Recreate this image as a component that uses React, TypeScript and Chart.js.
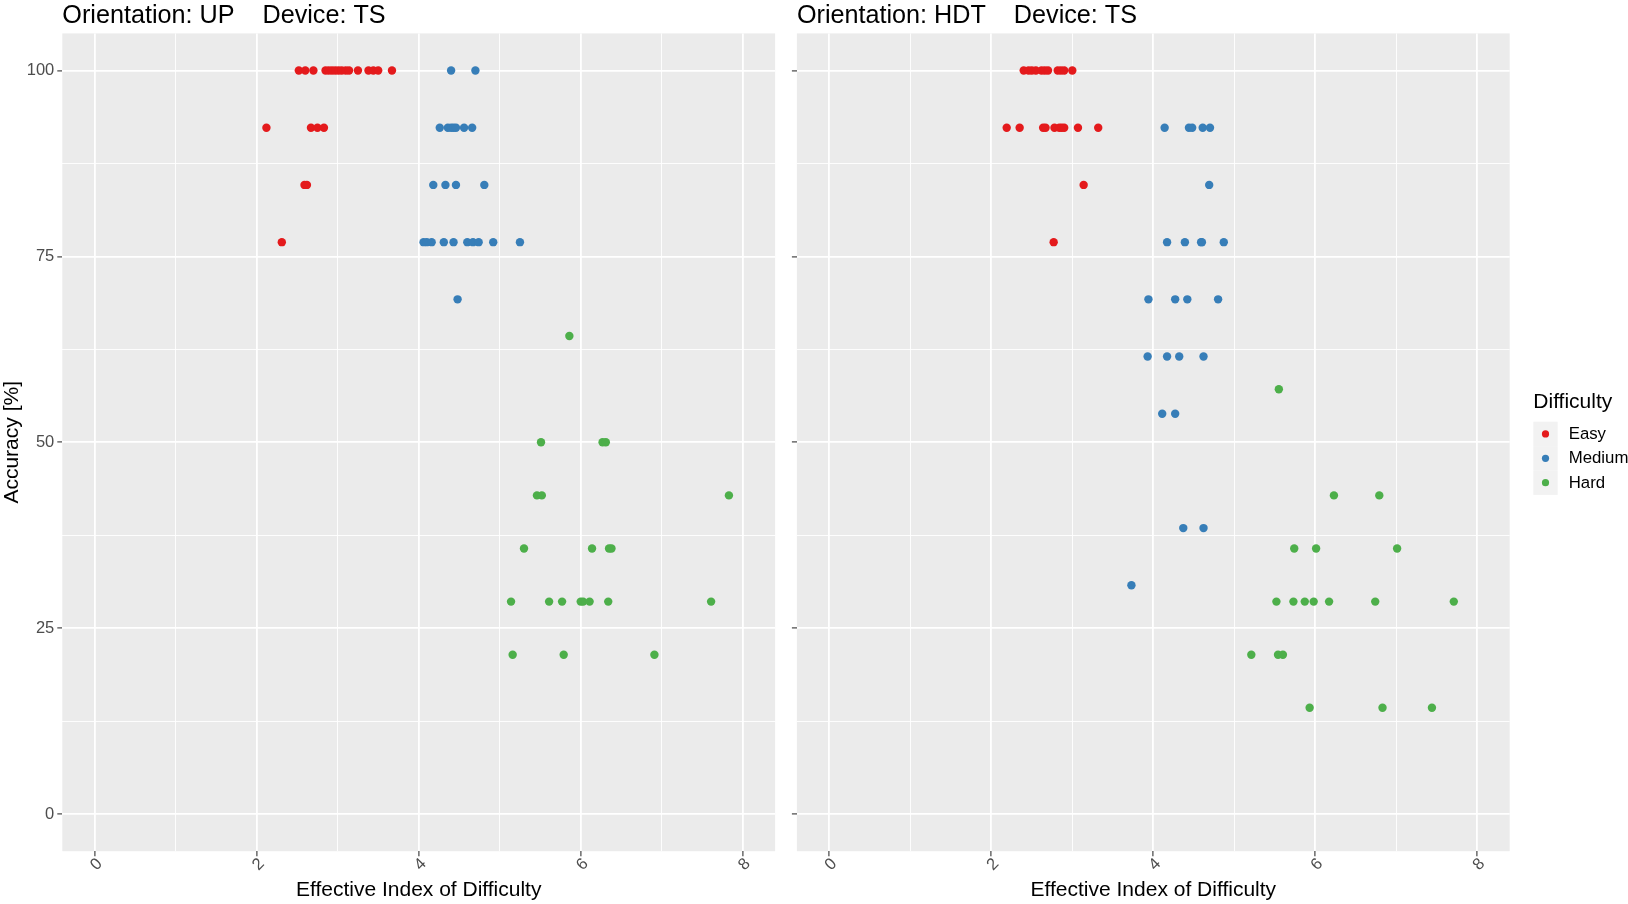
import React, { useEffect, useRef } from "react";
import { Chart, registerables } from "chart.js";

Chart.register(...registerables);

// ---- Data: effective index of difficulty (bits) vs. accuracy (%) ----
const DIFFICULTIES = ["Easy", "Medium", "Hard"];
const COLORS = ["#E41A1C", "#377EB8", "#4DAF4A"];

const X_TICKS = [0, 1, 2, 3, 4, 5, 6, 7, 8];
const Y_TICKS = [0, 12.5, 25, 37.5, 50, 62.5, 75, 87.5, 100];
const X_LABELED = [0, 2, 4, 6, 8];
const Y_LABELED = [0, 25, 50, 75, 100];

// Orientation UP, device TS
const UP_EASY_EID = [
  2.52, 2.6, 2.7, 2.85, 2.89, 2.93, 2.97, 3.01, 3.05, 3.1, 3.14, 3.25, 3.38, 3.44, 3.5, 3.67,
  2.12, 2.67, 2.75, 2.83,
  2.59, 2.62,
  2.31,
];
const UP_EASY_ACC = [
  100, 100, 100, 100, 100, 100, 100, 100, 100, 100, 100, 100, 100, 100, 100, 100,
  92.31, 92.31, 92.31, 92.31,
  84.62, 84.62,
  76.92,
];
const UP_MEDIUM_EID = [
  4.4, 4.7,
  4.26, 4.36, 4.4, 4.43, 4.46, 4.56, 4.66,
  4.18, 4.33, 4.46, 4.81,
  4.06, 4.1, 4.16, 4.31, 4.43, 4.6, 4.67, 4.74, 4.92, 5.25,
  4.48,
];
const UP_MEDIUM_ACC = [
  100, 100,
  92.31, 92.31, 92.31, 92.31, 92.31, 92.31, 92.31,
  84.62, 84.62, 84.62, 84.62,
  76.92, 76.92, 76.92, 76.92, 76.92, 76.92, 76.92, 76.92, 76.92, 76.92,
  69.23,
];
const UP_HARD_EID = [
  5.86,
  5.51, 6.27, 6.31,
  5.46, 5.52, 7.83,
  5.3, 6.14, 6.35, 6.38,
  5.14, 5.61, 5.77, 6.0, 6.03, 6.11, 6.34, 7.61,
  5.16, 5.79, 6.91,
];
const UP_HARD_ACC = [
  64.29,
  50, 50, 50,
  42.86, 42.86, 42.86,
  35.71, 35.71, 35.71, 35.71,
  28.57, 28.57, 28.57, 28.57, 28.57, 28.57, 28.57, 28.57,
  21.43, 21.43, 21.43,
];

// Orientation HDT, device TS
const HDT_EASY_EID = [
  2.4, 2.46, 2.5, 2.55, 2.62, 2.66, 2.7, 2.82, 2.86, 2.9, 3.0,
  2.19, 2.35, 2.64, 2.67, 2.78, 2.84, 2.87, 2.9, 3.07, 3.32,
  3.14,
  2.77,
];
const HDT_EASY_ACC = [
  100, 100, 100, 100, 100, 100, 100, 100, 100, 100, 100,
  92.31, 92.31, 92.31, 92.31, 92.31, 92.31, 92.31, 92.31, 92.31, 92.31,
  84.62,
  76.92,
];
const HDT_MEDIUM_EID = [
  4.14, 4.44, 4.48, 4.61, 4.7,
  4.69,
  4.17, 4.39, 4.59, 4.6, 4.87,
  3.94, 4.27, 4.42, 4.8,
  3.93, 4.17, 4.32, 4.62,
  4.11, 4.27,
  4.37, 4.62,
  3.73,
];
const HDT_MEDIUM_ACC = [
  92.31, 92.31, 92.31, 92.31, 92.31,
  84.62,
  76.92, 76.92, 76.92, 76.92, 76.92,
  69.23, 69.23, 69.23, 69.23,
  61.54, 61.54, 61.54, 61.54,
  53.85, 53.85,
  38.46, 38.46,
  30.77,
];
const HDT_HARD_EID = [
  5.55,
  6.23, 6.79,
  5.74, 6.01, 7.01,
  5.52, 5.73, 5.87, 5.98, 6.17, 6.74, 7.71,
  5.21, 5.54, 5.6,
  5.93, 6.83, 7.44,
];
const HDT_HARD_ACC = [
  57.14,
  42.86, 42.86,
  35.71, 35.71, 35.71,
  28.57, 28.57, 28.57, 28.57, 28.57, 28.57, 28.57,
  21.43, 21.43, 21.43,
  14.29, 14.29, 14.29,
];

const PANEL_TITLES = ["Orientation: UP    Device: TS", "Orientation: HDT    Device: TS"];
const X_TITLE = "Effective Index of Difficulty";
const Y_TITLE = "Accuracy [%]";
const LEGEND_TITLE = "Difficulty";

const PANEL_SERIES = [
  [
    [UP_EASY_EID, UP_EASY_ACC],
    [UP_MEDIUM_EID, UP_MEDIUM_ACC],
    [UP_HARD_EID, UP_HARD_ACC],
  ],
  [
    [HDT_EASY_EID, HDT_EASY_ACC],
    [HDT_MEDIUM_EID, HDT_MEDIUM_ACC],
    [HDT_HARD_EID, HDT_HARD_ACC],
  ],
];

const FONT = '"Liberation Sans", Arial, Helvetica, sans-serif';
const PANEL_BG = "#EBEBEB";
const TICK_TEXT = "#4D4D4D";
const TICK_MARK = "#333333";

Chart.defaults.font.family = FONT;

type PanelLayout = {
  canvasLeft: number;
  canvasWidth: number;
  areaLeft: number; // chart area edges in page pixels
  areaRight: number;
  areaTop: number;
  areaBottom: number;
  showYLabels: boolean;
  showLegend: boolean;
};

const HEIGHT = 904;

const LAYOUTS: PanelLayout[] = [
  {
    canvasLeft: 0,
    canvasWidth: 782,
    areaLeft: 62.3,
    areaRight: 775.1,
    areaTop: 33.4,
    areaBottom: 851.2,
    showYLabels: true,
    showLegend: false,
  },
  {
    canvasLeft: 782,
    canvasWidth: 1628 - 782,
    areaLeft: 796.9,
    areaRight: 1509.7,
    areaTop: 33.4,
    areaBottom: 851.2,
    showYLabels: false,
    showLegend: true,
  },
];

function panelBackground() {
  return {
    id: "panelBackground",
    beforeDraw(chart: any) {
      const { ctx, chartArea } = chart;
      ctx.save();
      ctx.fillStyle = PANEL_BG;
      ctx.fillRect(chartArea.left, chartArea.top, chartArea.right - chartArea.left, chartArea.bottom - chartArea.top);
      ctx.restore();
    },
  };
}

function panelTitle(text: string) {
  return {
    id: "panelTitle",
    afterDraw(chart: any) {
      const { ctx, chartArea } = chart;
      ctx.save();
      ctx.font = `25.2px ${FONT}`;
      ctx.fillStyle = "#000000";
      ctx.textAlign = "left";
      ctx.textBaseline = "alphabetic";
      ctx.fillText(text, chartArea.left, 23.3);
      ctx.restore();
    },
  };
}

function difficultyLegend(offsetX: number) {
  return {
    id: "difficultyLegend",
    afterDraw(chart: any) {
      const { ctx } = chart;
      const left = 1533.3 - offsetX;
      const keyTop = 421.7;
      const keySize = 24.4;
      ctx.save();
      ctx.font = `21px ${FONT}`;
      ctx.fillStyle = "#000000";
      ctx.textAlign = "left";
      ctx.textBaseline = "middle";
      ctx.fillText(LEGEND_TITLE, left, 402);
      DIFFICULTIES.forEach((name, i) => {
        const top = keyTop + i * keySize;
        ctx.fillStyle = "#F2F2F2";
        ctx.fillRect(left, top, keySize, keySize);
        ctx.beginPath();
        ctx.fillStyle = COLORS[i];
        ctx.arc(left + keySize / 2, top + keySize / 2, 3.6, 0, Math.PI * 2);
        ctx.fill();
        ctx.font = `16.8px ${FONT}`;
        ctx.fillStyle = "#000000";
        ctx.fillText(name, 1568.7 - offsetX, top + keySize / 2 + 0.5);
      });
      ctx.restore();
    },
  };
}

function Panel({ index }: { index: number }) {
  const ref = useRef<HTMLCanvasElement | null>(null);
  const L = LAYOUTS[index];

  useEffect(() => {
    if (!ref.current) return;
    const datasets = PANEL_SERIES[index].map(([xs, ys], i) => ({
      label: DIFFICULTIES[i],
      data: xs.map((x, k) => ({ x, y: ys[k] })),
      backgroundColor: COLORS[i],
      borderColor: COLORS[i],
      pointRadius: 4.2,
      pointBorderWidth: 0,
      pointHoverRadius: 4.2,
      showLine: false,
    }));

    const areaLeftLocal = L.areaLeft - L.canvasLeft;
    const areaRightLocal = L.areaRight - L.canvasLeft;

    const gridWidth = (major: boolean) => (major ? 1.8 : 0.9);

    const plugins: any[] = [panelBackground(), panelTitle(PANEL_TITLES[index])];
    if (L.showLegend) plugins.push(difficultyLegend(L.canvasLeft));

    const chart = new Chart(ref.current, {
      type: "scatter",
      data: { datasets },
      plugins,
      options: {
        responsive: false,
        animation: false,
        events: [],
        layout: {
          padding: {
            left: 0,
            top: L.areaTop,
            right: L.canvasWidth - areaRightLocal,
            bottom: 0,
          },
        },
        plugins: {
          legend: { display: false },
          tooltip: { enabled: false },
          title: { display: false },
        },
        scales: {
          x: {
            type: "linear",
            min: -0.4,
            max: 8.4,
            afterBuildTicks: (scale: any) => {
              scale.ticks = X_TICKS.map((v) => ({ value: v }));
            },
            afterFit: (scale: any) => {
              scale.height = HEIGHT - L.areaBottom;
            },
            border: { display: false },
            grid: {
              color: "#FFFFFF",
              lineWidth: (c: any) => gridWidth(X_LABELED.includes(c.tick?.value)),
              tickColor: (c: any) => (X_LABELED.includes(c.tick?.value) ? TICK_MARK : "rgba(0,0,0,0)"),
              tickLength: 5,
              tickWidth: 1.1,
              drawTicks: true,
            },
            ticks: {
              autoSkip: false,
              minRotation: 45,
              maxRotation: 45,
              padding: -2,
              labelOffset: 5,
              color: TICK_TEXT,
              font: { size: 16.5 },
              callback: (v: any) => (X_LABELED.includes(Number(v)) ? String(v) : ""),
            },
            title: {
              display: true,
              text: X_TITLE,
              color: "#000000",
              font: { size: 21 },
              padding: { top: 0, bottom: 1.4 },
            },
          },
          y: {
            type: "linear",
            min: -5,
            max: 105,
            afterBuildTicks: (scale: any) => {
              scale.ticks = Y_TICKS.map((v) => ({ value: v }));
            },
            afterFit: (scale: any) => {
              scale.width = areaLeftLocal;
            },
            border: { display: false },
            grid: {
              color: "#FFFFFF",
              lineWidth: (c: any) => gridWidth(Y_LABELED.includes(c.tick?.value)),
              tickColor: (c: any) => (Y_LABELED.includes(c.tick?.value) ? TICK_MARK : "rgba(0,0,0,0)"),
              tickLength: 5,
              tickWidth: 1.1,
              drawTicks: true,
            },
            ticks: {
              autoSkip: false,
              padding: 3,
              color: TICK_TEXT,
              font: { size: 16.5 },
              callback: (v: any) =>
                L.showYLabels && Y_LABELED.includes(Number(v)) ? String(v) : "",
            },
            title: {
              display: L.showYLabels,
              text: Y_TITLE,
              color: "#000000",
              font: { size: 21 },
              padding: { top: 0, bottom: 0 },
            },
          },
        },
      } as any,
    });
    return () => chart.destroy();
  }, [index]);

  return (
    <canvas
      ref={ref}
      width={L.canvasWidth}
      height={HEIGHT}
      style={{
        position: "absolute",
        left: L.canvasLeft,
        top: 0,
        width: L.canvasWidth,
        height: HEIGHT,
      }}
    />
  );
}

export default function App() {
  return (
    <div
      style={{
        position: "absolute",
        left: 0,
        top: 0,
        width: 1628,
        height: HEIGHT,
        overflow: "hidden",
        background: "#FFFFFF",
      }}
    >
      <Panel index={0} />
      <Panel index={1} />
    </div>
  );
}
